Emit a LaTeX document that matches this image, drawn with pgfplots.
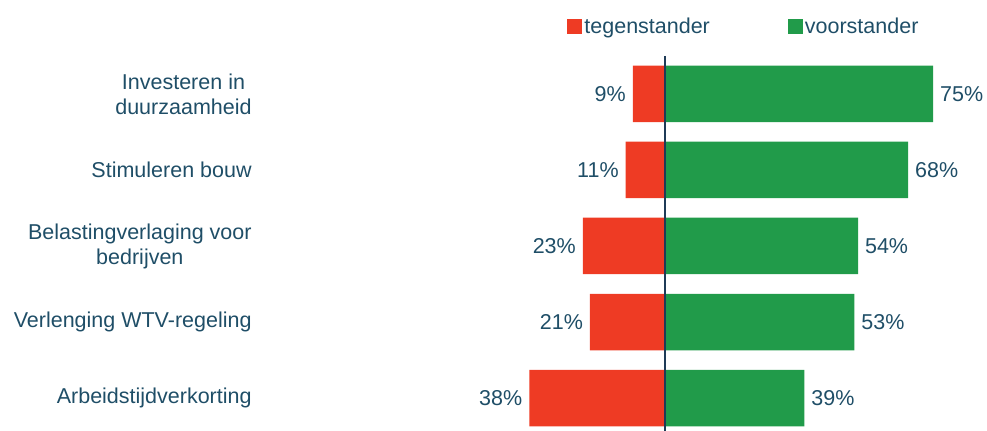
\documentclass[border=0pt]{standalone}
\usepackage{fontspec}
\setmainfont{Liberation Sans}
\usepackage{pgfplots}
\pgfplotsset{compat=1.18}
\definecolor{tegen}{HTML}{EE3B24}
\definecolor{voor}{HTML}{219B4A}
\definecolor{txt}{HTML}{1F4E67}
\definecolor{midline}{HTML}{1F3B57}
\begin{document}
\begin{tikzpicture}
% 1 px of the reference = 0.5pt
\useasboundingbox (0,0) rectangle (493.5pt,215.5pt);
\begin{axis}[
  at={(130pt,0pt)}, anchor=south west,
  scale only axis,
  width=363.5pt, height=187.5pt,
  xbar, bar shift=0pt, bar width=28.25pt,
  xmin=-113.35, xmax=90.1,
  ymin=-0.5, ymax=4.434,
  y dir=reverse,
  axis line style={draw=none},
  xtick=\empty,
  ytick={0,1,2,3,4},
  yticklabels={{Investeren in\\duurzaamheid},{Stimuleren bouw},{Belastingverlaging voor\\bedrijven},{Verlenging WTV-regeling},{Arbeidstijdverkorting}},
  major tick length=0pt,
  yticklabel style={align=center, inner sep=0pt, anchor=east, xshift=-4pt,
    font=\fontsize{10.75}{12.5}\selectfont, text=txt},
  point meta=explicit symbolic,
  nodes near coords={\pgfplotspointmeta\%},
  every node near coord/.append style={font=\fontsize{10.75}{12.5}\selectfont, text=txt},
  legend columns=2,
  legend style={at={(0.4223,1.0773)}, anchor=west, draw=none, fill=none,
    inner sep=0pt, font=\fontsize{10.75}{12.5}\selectfont, text=txt,
    nodes={inner sep=1pt},
    /tikz/every even column/.append style={column sep=38pt}},
  legend image code/.code={\fill[#1] (0pt,-3.75pt) rectangle (7.5pt,3.75pt);},
]
\addplot[fill=tegen, draw=none,
  every node near coord/.append style={anchor=east}]
  coordinates {(-9,0) [9] (-11,1) [11] (-23,2) [23] (-21,3) [21] (-38,4) [38]};
\addlegendentry{tegenstander}
\addplot[fill=voor, draw=none,
  every node near coord/.append style={anchor=west}]
  coordinates {(75,0) [75] (68,1) [68] (54,2) [54] (53,3) [53] (39,4) [39]};
\addlegendentry{voorstander}
\draw[midline, line width=0.75pt] (axis cs:0,-0.5) -- (axis cs:0,4.434);
\end{axis}
\end{tikzpicture}
\end{document}
